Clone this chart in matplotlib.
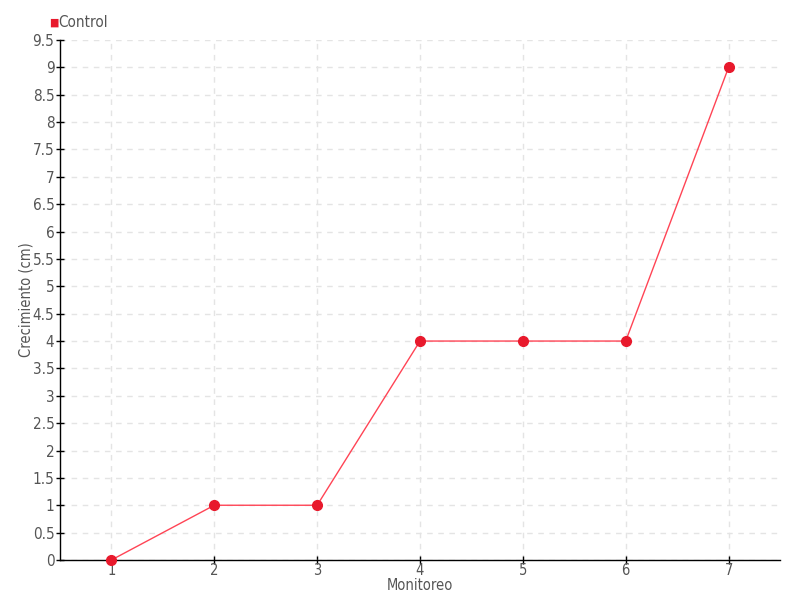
import numpy as np
import matplotlib
matplotlib.use('Agg')
import matplotlib.pyplot as plt

plt.rcParams['font.family'] = ['DejaVu Sans']
plt.rcParams['font.stretch'] = 'condensed'

monitoreo = [1, 2, 3, 4, 5, 6, 7]
crecimiento = [0, 1, 1, 4, 4, 4, 9]
y_ticks = np.arange(0, 10, 0.5)

fig = plt.figure(figsize=(8, 6), dpi=100)
ax = fig.add_axes([0.075, 0.0667, 0.9, 0.8666])

ax.plot(monitoreo, crecimiento, color='#ff4455', lw=1, zorder=3)
ax.plot(monitoreo, crecimiento, 'o', color='#e8192c', ms=7, zorder=4, clip_on=False)

ax.set_xlim(0.5, 7.5)
ax.set_ylim(0, 9.5)
ax.set_xticks(monitoreo)
ax.set_yticks(y_ticks)
ax.set_yticklabels([f'{v:g}' for v in y_ticks])

ax.grid(True, color='#e4e4e4', linestyle=(0, (4, 4)), lw=1)
ax.set_axisbelow(True)
for s in ['top', 'right']:
    ax.spines[s].set_visible(False)
ax.spines['left'].set_linewidth(1)
ax.spines['bottom'].set_linewidth(1)
ax.tick_params(axis='y', direction='inout', length=6, width=1,
               labelcolor='#555555', labelsize=11, pad=1)
ax.tick_params(axis='x', direction='inout', length=6, width=1,
               labelcolor='#555555', labelsize=10.5, pad=-1)

ax.set_xlabel('Monitoreo', color='#555555', fontsize=10.5, labelpad=0)
ax.set_ylabel('Crecimiento (cm)', color='#555555', fontsize=10.5)
ax.yaxis.set_label_coords(-0.037, 0.5)

# legend
fig.text(0.061, 0.963, '■', color='#e8192c', fontsize=8, va='center', ha='left')
fig.text(0.073, 0.963, 'Control', color='#555555', fontsize=11, va='center', ha='left')

fig.savefig('out.png', dpi=100)
